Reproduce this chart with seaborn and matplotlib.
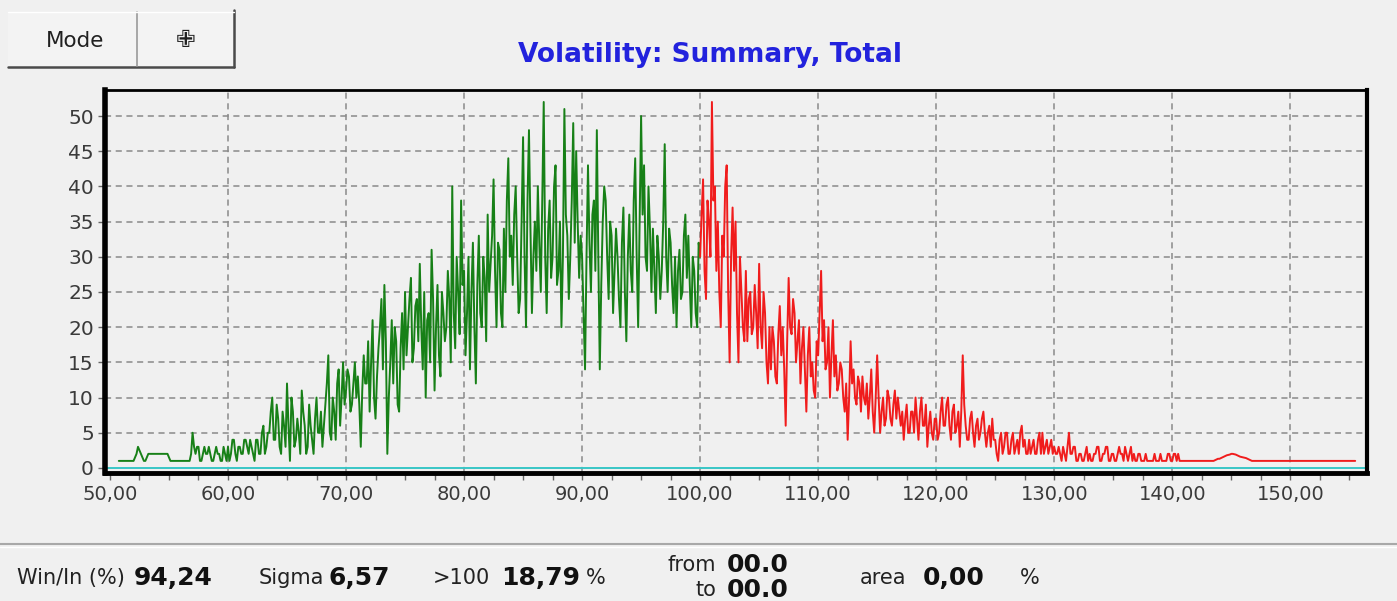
import numpy as np
import pandas as pd
import matplotlib
matplotlib.use("Agg")
import matplotlib.pyplot as plt
import seaborn as sns
from matplotlib.ticker import FixedLocator, FuncFormatter
from matplotlib.lines import Line2D

# ---------------- data ----------------
bin_start = 50.75          # first bin centre
bin_width = 0.125          # histogram bin width
split_value = 100.0        # colour change (green below, red above)

# counts for bins 50.750 ... 100.000  (green part)
green_counts = [
    1, 1,                              # 50.75
    1, 1, 1, 1, 1, 1, 1, 1,            # 51
    1, 1.5, 2, 3, 2.5, 2, 1.5, 1,      # 52
    1, 1.5, 2, 2, 2, 2, 2, 2,          # 53
    2, 2, 2, 2, 2, 2, 2, 2,            # 54
    1.5, 1, 1, 1, 1, 1, 1, 1,          # 55
    1, 1, 1, 1, 1, 1, 1, 2,            # 56
    5, 3, 2, 3, 3, 1, 1, 2,            # 57
    3, 2, 2, 3, 2, 1, 1, 2,            # 58
    3, 2, 2, 1, 1, 3, 2, 1,            # 59
    3, 1, 2, 4, 4, 2, 1, 3,            # 60
    3, 2, 2, 4, 4, 3, 2, 4,            # 61
    3, 2, 1, 4, 4, 2, 2, 5,            # 62
    6, 2, 3, 5, 5, 8, 10, 4,           # 63
    4, 9, 7, 3, 2, 8, 6, 3,            # 64
    12, 6, 1, 10, 8, 3, 4, 7,          # 65
    5, 2, 11, 8, 6, 2, 3, 9,           # 66
    6, 4, 2, 7, 10, 5, 5, 8,           # 67
    3, 6, 9, 12, 16, 5, 4, 10,         # 68
    8, 4, 12, 14, 6, 10, 15, 9,        # 69
    11, 14, 13, 8, 9, 12, 15, 10,      # 70
    13, 9, 3, 11, 16, 12, 12, 18,      # 71
    8, 15, 21, 10, 7, 13, 17, 20,      # 72
    24, 14, 26, 18, 2, 10, 15, 21,     # 73
    12, 20, 18, 9, 8, 17, 22, 14,      # 74
    25, 16, 20, 24, 27, 15, 17, 23,    # 75
    24, 18, 29, 20, 14, 25, 10, 21,    # 76
    22, 15, 31, 24, 11, 20, 26, 16,    # 77
    13, 25, 22, 18, 20, 28, 24, 15,    # 78
    40, 22, 17, 30, 25, 19, 38, 26,    # 79
    28, 16, 22, 30, 14, 25, 32, 20,    # 80
    12, 26, 33, 22, 20, 30, 27, 18,    # 81
    36, 25, 29, 33, 41, 28, 20, 32,    # 82
    31, 22, 20, 34, 25, 38, 44, 30,    # 83
    33, 26, 36, 40, 30, 22, 24, 35,    # 84
    47, 30, 20, 38, 48, 34, 22, 30,    # 85
    35, 28, 40, 32, 25, 38, 52, 30,    # 86
    22, 34, 38, 27, 30, 40, 43, 26,    # 87
    28, 35, 20, 30, 51, 36, 33, 24,    # 88
    30, 38, 49, 32, 45, 35, 27, 33,    # 89
    30, 22, 14, 30, 43, 32, 25, 36,    # 90
    38, 28, 48, 30, 14, 26, 35, 40,    # 91
    38, 30, 24, 35, 33, 22, 28, 34,    # 92
    30, 24, 20, 32, 37, 25, 18, 30,    # 93
    36, 28, 25, 38, 44, 30, 20, 35,    # 94
    50, 36, 43, 30, 28, 40, 34, 25,    # 95
    34, 28, 22, 33, 30, 24, 28, 35,    # 96
    46, 30, 25, 34, 32, 26, 22, 30,    # 97
    20, 28, 31, 24, 25, 33, 36, 27,    # 98
    33, 26, 20, 30, 28, 22, 20, 32,    # 99
    30,                                # 100
]

# counts for bins 100.000 ... 155.500  (red part)
red_counts = [
    30, 36, 41, 28, 24, 38, 35, 30,    # 100
    52, 38, 40, 28, 35, 25, 20, 33,    # 101
    30, 40, 43, 25, 15, 30, 37, 28,    # 102
    35, 22, 15, 30, 25, 20, 18, 28,    # 103
    18, 24, 25, 19, 20, 26, 22, 17,    # 104
    29, 20, 17, 25, 22, 15, 12, 20,    # 105
    14, 20, 18, 13, 12, 19, 23, 16,    # 106
    20, 14, 6, 18, 27, 20, 19, 24,     # 107
    22, 15, 18, 21, 12, 17, 20, 14,    # 108
    8, 16, 20, 13, 15, 11, 10, 18,     # 109
    16, 22, 28, 18, 21, 14, 15, 20,    # 110
    10, 16, 21, 13, 16, 11, 12, 15,    # 111
    14, 10, 8, 12, 4, 10, 18, 12,      # 112
    14, 10, 9, 13, 12, 8, 13, 10,      # 113
    9, 12, 7, 10, 14, 8, 5, 10,        # 114
    16, 10, 5, 8, 10, 6, 7, 11,        # 115
    10, 7, 6, 9, 11, 7, 10, 8,         # 116
    6, 8, 4, 7, 9, 5, 5, 8,            # 117
    8, 5, 10, 7, 4, 8, 10, 6,          # 118
    6, 9, 3, 6, 8, 5, 4, 7,            # 119
    7, 4, 5, 8, 10, 6, 6, 9,           # 120
    10, 6, 4, 8, 9, 5, 6, 8,           # 121
    3, 8, 16, 9, 6, 4, 4, 7,           # 122
    8, 5, 3, 6, 7, 4, 5, 7,            # 123
    8, 5, 3, 5, 6, 3, 7, 4,            # 124
    4, 2, 1, 4, 5, 2, 3, 5,            # 125
    5, 2, 2, 4, 5, 2, 3, 4,            # 126
    2, 5, 6, 3, 4, 2, 2, 4,            # 127
    2, 3, 4, 2, 2, 4, 5, 2,            # 128
    5, 2, 3, 4, 2, 3, 4, 2,            # 129
    3, 2, 2, 3, 2, 1, 3, 2,            # 130
    1, 3, 5, 2, 2, 3, 3, 1,            # 131
    1, 2, 2, 1, 1, 2, 3, 1,            # 132
    2, 1, 1, 2, 2, 3, 3, 1,            # 133
    1, 2, 2, 3, 3, 1, 1, 2,            # 134
    2, 1, 1, 2, 3, 2, 2, 1,            # 135
    3, 2, 1, 2, 3, 1, 2, 1,            # 136
    1, 2, 2, 1, 1, 1, 2, 1,            # 137
    1, 1, 1, 1, 2, 1, 1, 1,            # 138
    2, 1, 1, 1, 1, 2, 2, 1,            # 139
    1, 2, 2, 1, 2, 1, 1, 1,            # 140
    1, 1, 1, 1, 1, 1, 1, 1,            # 141
    1, 1, 1, 1, 1, 1, 1, 1,            # 142
    1, 1, 1, 1, 1, 1.1, 1.2, 1.3,      # 143
    1.3, 1.4, 1.5, 1.6, 1.7, 1.8, 1.85, 1.9,   # 144
    2, 2, 1.95, 1.9, 1.8, 1.7, 1.6, 1.55,      # 145
    1.5, 1.45, 1.4, 1.3, 1.2, 1.1, 1, 1,       # 146
    1, 1, 1, 1, 1, 1, 1, 1,            # 147
    1, 1, 1, 1, 1, 1, 1, 1,            # 148
    1, 1, 1, 1, 1, 1, 1, 1,            # 149
    1, 1, 1, 1, 1, 1, 1, 1,            # 150
    1, 1, 1, 1, 1, 1, 1, 1,            # 151
    1, 1, 1, 1, 1, 1, 1, 1,            # 152
    1, 1, 1, 1, 1, 1, 1, 1,            # 153
    1, 1, 1, 1, 1, 1, 1, 1,            # 154
    1, 1, 1, 1, 1,                     # 155
]

x_ticks = [50, 60, 70, 80, 90, 100, 110, 120, 130, 140, 150]
x_minor = [52.5, 55, 57.5, 62.5, 65, 67.5, 72.5, 75, 77.5, 82.5, 85, 87.5,
           92.5, 95, 97.5, 102.5, 105, 107.5, 112.5, 115, 117.5, 122.5, 125,
           127.5, 132.5, 135, 137.5, 142.5, 145, 147.5, 152.5, 155]
y_ticks = [0, 5, 10, 15, 20, 25, 30, 35, 40, 45, 50]

title = "Volatility: Summary, Total"
stats = [("Win/In (%)", "94,24"), ("Sigma", "6,57"), (">100", "18,79")]
range_from, range_to, area_value = "00.0", "00.0", "0,00"

# ---------------- build frames ----------------
green_x = bin_start + bin_width * np.arange(len(green_counts))
red_x = split_value + bin_width * np.arange(len(red_counts))
df = pd.concat([
    pd.DataFrame({"value": green_x, "count": green_counts, "part": "below"}),
    pd.DataFrame({"value": red_x, "count": red_counts, "part": "above"}),
], ignore_index=True)

# ---------------- style ----------------
BG = "#f0f0f0"
sns.set_style("white", {"axes.facecolor": BG, "figure.facecolor": BG})
plt.rcParams["font.family"] = ["DejaVu Sans"]

W, H = 1397, 601
fig = plt.figure(figsize=(W / 100, H / 100), dpi=100, facecolor=BG)

def fx(px):
    return px / W

def fy(py):
    return 1 - py / H

ax = fig.add_axes([fx(105), fy(473), fx(1367) - fx(105), fy(90) - fy(473)])
ax.set_facecolor(BG)

sns.lineplot(data=df, x="value", y="count", hue="part",
             palette={"below": "#178017", "above": "#f01c1c"},
             estimator=None, sort=False, linewidth=1.4, legend=False, ax=ax,
             zorder=3)

ax.set_xlim(49.58, 156.5)
ax.set_ylim(-0.72, 53.7)

# grid (dashed) – only inside the frame
for xv in x_ticks[1:]:
    ax.axvline(xv, color="#8a8a8a", lw=1.1, ls=(0, (4, 3)), zorder=1)
for yv in y_ticks[1:]:
    ax.axhline(yv, color="#8a8a8a", lw=1.1, ls=(0, (4, 3)), zorder=1)
ax.axhline(0, color="#39c6c6", lw=1.4, zorder=2)

ax.xaxis.set_major_locator(FixedLocator(x_ticks))
ax.xaxis.set_minor_locator(FixedLocator(x_minor))
ax.yaxis.set_major_locator(FixedLocator(y_ticks))
ax.xaxis.set_major_formatter(FuncFormatter(lambda v, p: f"{v:.2f}".replace(".", ",")))
ax.yaxis.set_major_formatter(FuncFormatter(lambda v, p: f"{int(v)}"))
ax.tick_params(axis="x", which="both", direction="out", length=5, width=1,
               color="#666666", labelsize=14, labelcolor="#3a3a3a", pad=4,
               bottom=True)
ax.tick_params(axis="y", which="major", direction="out", length=5, width=1,
               color="#666666", labelsize=14.5, labelcolor="#3a3a3a", pad=3,
               left=True)
ax.set_xlabel("")
ax.set_ylabel("")

for side, lw in (("left", 4), ("bottom", 3.5), ("top", 2), ("right", 3)):
    ax.spines[side].set_visible(True)
    ax.spines[side].set_color("black")
    ax.spines[side].set_linewidth(lw)

# title
fig.text(fx(710), fy(55), title, ha="center", va="center", color="#2222dd",
         fontsize=19, fontweight="bold")

# buttons
def fline(x0, y0, x1, y1, color, lw):
    fig.add_artist(Line2D([fx(x0), fx(x1)], [fy(y0), fy(y1)], color=color, lw=lw,
                          transform=fig.transFigure))

fig.add_artist(plt.Rectangle((fx(8), fy(67)), fx(234) - fx(8), fy(12) - fy(67),
                             transform=fig.transFigure, facecolor="#f3f3f3",
                             edgecolor="none"))
fline(8, 67, 234, 67, "#4a4a4a", 1.8)
fline(234, 10, 234, 67, "#4a4a4a", 1.8)
fline(137, 12, 137, 66, "#9a9a9a", 1.2)
fline(8, 12, 234, 12, "#ffffff", 1.0)
fig.text(fx(75), fy(41), "Mode", ha="center", va="center", fontsize=15.5,
         color="#202020")
fig.text(fx(186), fy(40), "\u2719", ha="center", va="center", fontsize=17,
         color="#202020")

# status bar
fline(0, 544, W, 544, "#a8a8a8", 1.5)
fline(0, 547, W, 547, "#ffffff", 1.0)
row_y = 578
label_kw = dict(va="center", ha="left", fontsize=15, color="#222222")
bold_kw = dict(va="center", ha="left", fontsize=18, color="#111111",
               fontweight="bold")
fig.text(fx(17), fy(row_y), stats[0][0], **label_kw)
fig.text(fx(134), fy(row_y), stats[0][1], **bold_kw)
fig.text(fx(259), fy(row_y), stats[1][0], **label_kw)
fig.text(fx(328), fy(row_y), stats[1][1], **bold_kw)
fig.text(fx(433), fy(row_y), stats[2][0], **label_kw)
fig.text(fx(501), fy(row_y), stats[2][1], **bold_kw)
fig.text(fx(586), fy(row_y), "%", **label_kw)
fig.text(fx(716), fy(565), "from", va="center", ha="right", fontsize=15,
         color="#222222")
fig.text(fx(716), fy(590), "to", va="center", ha="right", fontsize=15,
         color="#222222")
fig.text(fx(727), fy(565), range_from, **bold_kw)
fig.text(fx(727), fy(590), range_to, **bold_kw)
fig.text(fx(860), fy(row_y), "area", **label_kw)
fig.text(fx(923), fy(row_y), area_value, **bold_kw)
fig.text(fx(1020), fy(row_y), "%", **label_kw)

fig.savefig("out.png", dpi=100, facecolor=BG)
